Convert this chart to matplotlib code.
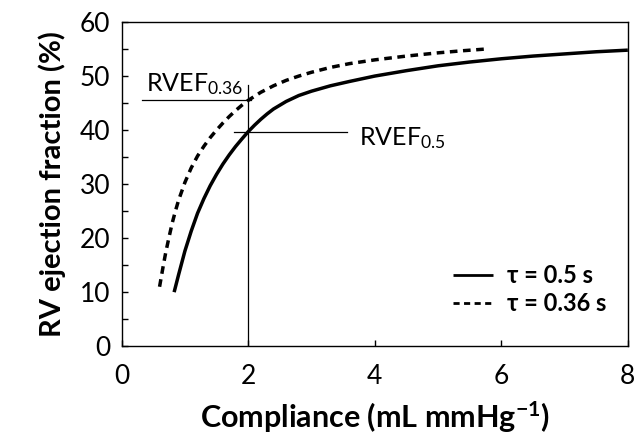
import matplotlib
matplotlib.use("Agg")
import matplotlib.pyplot as plt
from matplotlib.ticker import MultipleLocator

plt.rcParams['font.family'] = ['Lato', 'DejaVu Sans']
plt.rcParams['mathtext.default'] = 'regular'

# Data
x_solid = [0.83, 0.9, 1.0, 1.1, 1.2, 1.3, 1.4, 1.5, 1.6, 1.7, 1.8, 1.9, 2.0, 2.1, 2.2, 2.3,
           2.4, 2.6, 2.8, 3.0, 3.3, 3.6, 4.0, 4.5, 5.0, 5.5, 6.0, 6.5, 7.0, 7.5, 8.0]
y_solid = [10.0, 13.2, 17.6, 21.3, 24.6, 27.3, 29.7, 31.8, 33.7, 35.4, 36.95, 38.35, 39.7,
           40.9, 42.0, 43.0, 43.9, 45.3, 46.4, 47.2, 48.2, 49.0, 50.0, 51.0, 51.9, 52.6,
           53.2, 53.7, 54.1, 54.5, 54.8]
x_dash = [0.6, 0.63, 0.66, 0.7, 0.75, 0.8, 0.85, 0.9, 1.0, 1.1, 1.2, 1.3, 1.4, 1.5, 1.6, 1.7,
          1.8, 1.9, 2.0, 2.2, 2.4, 2.6, 2.8, 3.0, 3.3, 3.6, 4.0, 4.5, 5.0, 5.4, 5.75]
y_dash = [11.0, 13.0, 15.0, 17.5, 20.2, 22.8, 25.0, 27.0, 30.3, 33.0, 35.2, 37.0, 38.6, 40.0,
          41.3, 42.5, 43.6, 44.6, 45.5, 47.0, 48.2, 49.2, 50.0, 50.7, 51.6, 52.3, 53.0, 53.7,
          54.3, 54.7, 55.0]

x_ref = 2.0
y_ref_036 = 45.5
y_ref_05 = 39.7
ref_labels = ['RVEF$_{0.36}$', 'RVEF$_{0.5}$']
series_labels = ['τ = 0.5 s', 'τ = 0.36 s']
x_ticks = [0, 2, 4, 6, 8]
y_ticks = [0, 10, 20, 30, 40, 50, 60]

fig = plt.figure(figsize=(6.4, 4.41), dpi=100)
ax = fig.add_axes([0.19, 0.215, 0.791, 0.735])

ax.plot(x_solid, y_solid, color='black', lw=2.5, label=series_labels[0], solid_capstyle='butt')
ax.plot(x_dash, y_dash, color='black', lw=2.5, ls=(0, (2.2, 1.6)), label=series_labels[1])

ax.plot([x_ref, x_ref], [0, 48.3], color='black', lw=0.9)
ax.plot([0.33, x_ref + 0.05], [y_ref_036, y_ref_036], color='black', lw=0.9)
ax.plot([1.77, 3.56], [y_ref_05, y_ref_05], color='black', lw=0.9)

ax.text(0.38, 47.2, ref_labels[0], fontsize=18, ha='left', va='baseline')
ax.text(3.75, 37.3, ref_labels[1], fontsize=18, ha='left', va='baseline')

ax.set_xlim(0, 8)
ax.set_ylim(0, 60)
ax.set_xticks(x_ticks)
ax.set_yticks(y_ticks)
ax.yaxis.set_minor_locator(MultipleLocator(5))
ax.tick_params(axis='both', which='both', direction='in', labelsize=19, width=1)
ax.tick_params(axis='x', which='major', length=4, pad=13)
ax.tick_params(axis='y', which='major', length=4, pad=8)
ax.tick_params(axis='y', which='minor', length=4)
for s in ax.spines.values():
    s.set_linewidth(1.0)

ax.set_xlabel('Compliance (mL mmHg$^{-1}$)', fontsize=22, fontweight='bold', labelpad=7)
ax.set_ylabel('RV ejection fraction (%)', fontsize=21, fontweight='bold', labelpad=10)

leg = ax.legend(loc='lower right', frameon=False, fontsize=17, handlelength=1.7,
                handletextpad=0.6, labelspacing=0.2, bbox_to_anchor=(1.0, 0.03))
for t in leg.get_texts():
    t.set_fontweight('bold')
for h in leg.get_lines():
    h.set_linewidth(2.0)

fig.savefig('out.png', dpi=100)
